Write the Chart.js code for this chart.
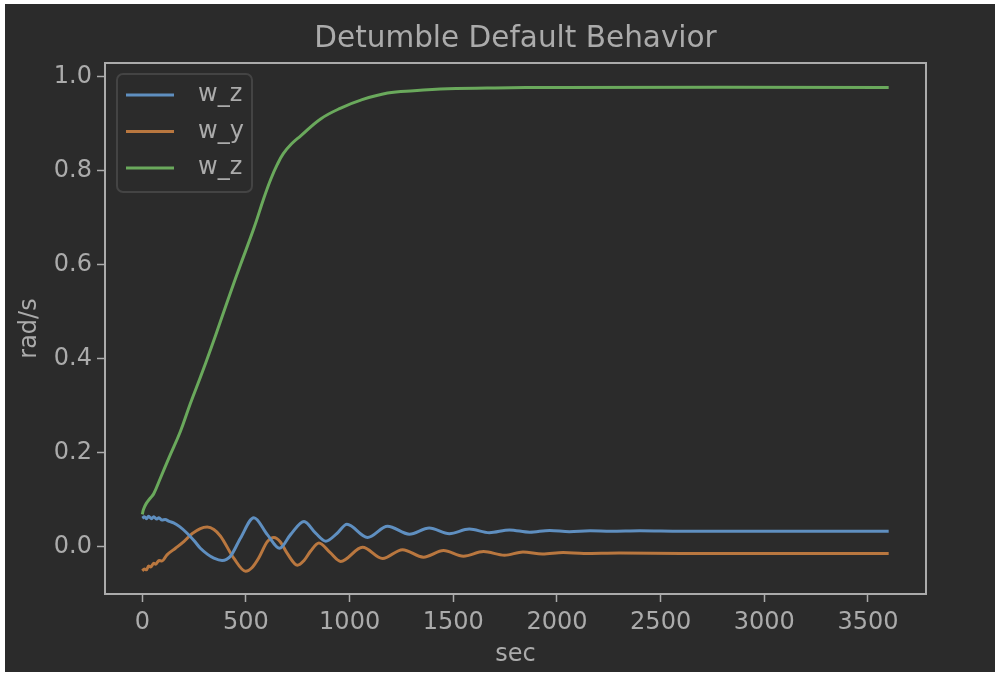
<!DOCTYPE html>
<html>
<head>
<meta charset="utf-8">
<title>Detumble Default Behavior</title>
<script src="https://cdn.jsdelivr.net/npm/chart.js@4/dist/chart.umd.min.js"></script>
<style>
  html, body { margin: 0; padding: 0; background: #ffffff; }
  #frame { position: absolute; left: 5px; top: 4px; width: 990px; height: 668px; background: #2b2b2b; }
  #chart { display: block; }
</style>
</head>
<body>
<div id="frame"><canvas id="chart" width="990" height="668"></canvas></div>
<script>
// Angular rate, first component (w_z, blue)
const timeRate1 = [0, 10, 20, 30, 45, 55, 70, 80, 95, 110, 130, 151, 180, 216, 250, 280, 315, 345, 385, 425, 474, 538, 603, 662, 715, 780, 836, 885, 940, 987, 1086, 1183, 1288, 1384, 1481, 1577, 1674, 1771, 1868, 1965, 2060, 2160, 2260, 2400, 2600, 3000, 3600];
const rate1 = [0.060, 0.063, 0.059, 0.064, 0.059, 0.063, 0.058, 0.061, 0.056, 0.057, 0.053, 0.050, 0.042, 0.028, 0.012, -0.004, -0.017, -0.025, -0.030, -0.021, 0.018, 0.061, 0.025, -0.004, 0.025, 0.053, 0.028, 0.011, 0.028, 0.047, 0.019, 0.043, 0.026, 0.039, 0.027, 0.037, 0.029, 0.035, 0.030, 0.034, 0.031, 0.033, 0.032, 0.033, 0.032, 0.032, 0.032];

// Angular rate, second component (w_y, orange)
const timeRate2 = [0, 10, 20, 30, 40, 55, 65, 80, 95, 119, 160, 200, 240, 280, 313, 345, 377, 441, 498, 530, 560, 603, 635, 665, 699, 748, 780, 812, 852, 905, 957, 1062, 1159, 1255, 1356, 1453, 1549, 1646, 1747, 1836, 1930, 2030, 2130, 2300, 2600, 3600];
const rate2 = [-0.052, -0.048, -0.050, -0.042, -0.044, -0.036, -0.038, -0.030, -0.031, -0.018, -0.004, 0.010, 0.027, 0.038, 0.041, 0.036, 0.022, -0.025, -0.053, -0.045, -0.026, 0.010, 0.019, 0.010, -0.015, -0.040, -0.030, -0.010, 0.007, -0.013, -0.032, -0.002, -0.026, -0.007, -0.023, -0.009, -0.021, -0.011, -0.019, -0.012, -0.016, -0.013, -0.015, -0.014, -0.015, -0.015];

// Angular rate, third component (w_z, green)
const timeRate3 = [0, 6, 20, 39, 55, 87, 130, 184, 230, 280, 330, 377, 425, 474, 538, 586, 620, 650, 680, 720, 764, 860, 957, 1054, 1183, 1310, 1473, 1700, 2000, 3600];
const rate3 = [0.068, 0.079, 0.092, 0.103, 0.112, 0.145, 0.190, 0.245, 0.302, 0.360, 0.420, 0.479, 0.540, 0.600, 0.677, 0.741, 0.782, 0.812, 0.836, 0.857, 0.874, 0.910, 0.933, 0.950, 0.965, 0.970, 0.974, 0.976, 0.977, 0.977];

const seriesLabels = ['w_z', 'w_y', 'w_z'];
const seriesColors = ['#5f8fc0', '#b9773f', '#6aa95c'];

const xTicks = [0, 500, 1000, 1500, 2000, 2500, 3000, 3500];
const yTicks = [0.0, 0.2, 0.4, 0.6, 0.8, 1.0];

const FONT = 'DejaVu Sans';
const TEXT = '#ababab';
const SPINE = '#ababab';

function toPoints(ts, vs) { return ts.map((t, i) => ({ x: t, y: vs[i] })); }

// Full box around the plot area, drawn above the curves
const frameBox = {
  id: 'frameBox',
  afterDatasetsDraw(chart) {
    const a = chart.chartArea, ctx = chart.ctx;
    ctx.save();
    ctx.strokeStyle = SPINE;
    ctx.lineWidth = 2;
    ctx.strokeRect(a.left, a.top, a.right - a.left, a.bottom - a.top);
    ctx.restore();
  }
};

// Legend box in the upper-left corner of the plot area
const cornerLegend = {
  id: 'cornerLegend',
  afterDraw(chart) {
    const a = chart.chartArea, ctx = chart.ctx;
    const x0 = a.left + 12, y0 = a.top + 11, w = 135, h = 118, r = 6;
    ctx.save();
    ctx.fillStyle = 'rgba(43,43,43,0.85)';
    ctx.strokeStyle = '#444444';
    ctx.lineWidth = 2;
    ctx.beginPath();
    ctx.roundRect(x0, y0, w, h, r);
    ctx.fill();
    ctx.stroke();
    ctx.font = '24px "' + FONT + '"';
    ctx.textBaseline = 'middle';
    ctx.textAlign = 'left';
    chart.data.datasets.forEach((ds, i) => {
      const y = y0 + 21 + i * 36.5;
      ctx.strokeStyle = ds.borderColor;
      ctx.lineWidth = 3;
      ctx.beginPath();
      ctx.moveTo(x0 + 9, y);
      ctx.lineTo(x0 + 57, y);
      ctx.stroke();
      ctx.fillStyle = TEXT;
      ctx.fillText(ds.label, x0 + 81, y);
    });
    ctx.restore();
  }
};

const tickFont = { family: FONT, size: 24 };

new Chart(document.getElementById('chart'), {
  type: 'line',
  data: {
    datasets: [
      { label: seriesLabels[0], data: toPoints(timeRate1, rate1), borderColor: seriesColors[0] },
      { label: seriesLabels[1], data: toPoints(timeRate2, rate2), borderColor: seriesColors[1] },
      { label: seriesLabels[2], data: toPoints(timeRate3, rate3), borderColor: seriesColors[2],
        cubicInterpolationMode: 'default', tension: 0.4 }
    ]
  },
  options: {
    responsive: false,
    animation: false,
    devicePixelRatio: 1,
    layout: { padding: { left: 0, right: 69, top: 0, bottom: 0 } },
    elements: {
      point: { radius: 0 },
      line: { borderWidth: 3, cubicInterpolationMode: 'monotone', fill: false }
    },
    plugins: {
      legend: { display: false },
      tooltip: { enabled: false },
      title: {
        display: true,
        fullSize: false,
        text: 'Detumble Default Behavior',
        color: TEXT,
        font: { family: FONT, size: 29.5, weight: 'normal' },
        padding: { top: 17.3, bottom: 6.3 }
      }
    },
    scales: {
      x: {
        type: 'linear',
        min: -180,
        max: 3780,
        afterBuildTicks(s) { s.ticks = xTicks.map(v => ({ value: v })); },
        afterFit(s) { s.height = 78; },
        border: { display: false },
        grid: { display: true, drawOnChartArea: false, drawTicks: true, tickLength: 8, tickWidth: 1.5, tickColor: SPINE, color: SPINE },
        ticks: { color: TEXT, font: tickFont, padding: 6, maxRotation: 0, autoSkip: false, callback: v => String(v) },
        title: { display: true, text: 'sec', color: TEXT, font: tickFont, padding: { top: 0, bottom: 2.6 } }
      },
      y: {
        type: 'linear',
        min: -0.1014,
        max: 1.029,
        afterBuildTicks(s) { s.ticks = yTicks.map(v => ({ value: v })); },
        afterFit(s) { s.width = 100; },
        border: { display: false },
        grid: { display: true, drawOnChartArea: false, drawTicks: true, tickLength: 8, tickWidth: 1.5, tickColor: SPINE, color: SPINE },
        ticks: { color: TEXT, font: tickFont, padding: 5, callback: v => Number(v).toFixed(1) },
        title: { display: true, text: 'rad/s', color: TEXT, font: tickFont, padding: { top: 10.6, bottom: 0 } }
      }
    }
  },
  plugins: [frameBox, cornerLegend]
});
</script>
</body>
</html>
